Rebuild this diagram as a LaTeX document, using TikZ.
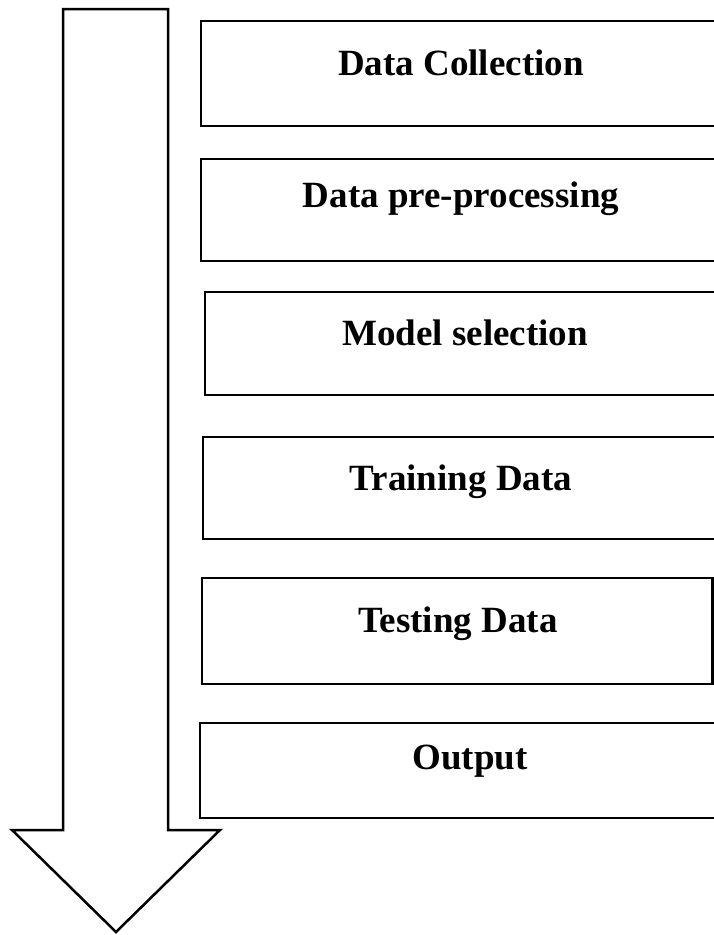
\documentclass[tikz,border=0pt]{standalone}
\usepackage{fontspec}
\setmainfont{Liberation Serif}
\usepackage{tikz}

\begin{document}
\begin{tikzpicture}[x=1pt, y=-1pt, line width=2.5pt,
    steplabel/.style={anchor=base, font=\fontsize{37}{44}\bfseries\selectfont}]
    \useasboundingbox (0,0) rectangle (714,935);
    \clip (0,0) rectangle (714,935);
    % big arrow
    \draw[line join=miter] (63,9) -- (168,9) -- (168,830) -- (220,830) -- (116,932)
        -- (12,830) -- (63,830) -- cycle;
    % boxes
    \draw (730,21) -- (201,21) -- (201,126) -- (730,126);
    \draw (730,159) -- (201,159) -- (201,261) -- (730,261);
    \draw (730,292) -- (205,292) -- (205,395) -- (730,395);
    \draw (730,437) -- (203,437) -- (203,539) -- (730,539);
    \draw (202,578) rectangle (712.5,684);
    \draw (730,723) -- (200,723) -- (200,818) -- (730,818);
    \node[steplabel] (collect) at (461,75) {Data Collection};
    \node[steplabel] (prep) at (461,207) {Data pre-processing};
    \node[steplabel] (model) at (465,345) {Model selection};
    \node[steplabel] (train) at (461,490) {Training Data};
    \node[steplabel] (test) at (458,632) {Testing Data};
    \node[steplabel] (out) at (470,769) {Output};
\end{tikzpicture}
\end{document}
